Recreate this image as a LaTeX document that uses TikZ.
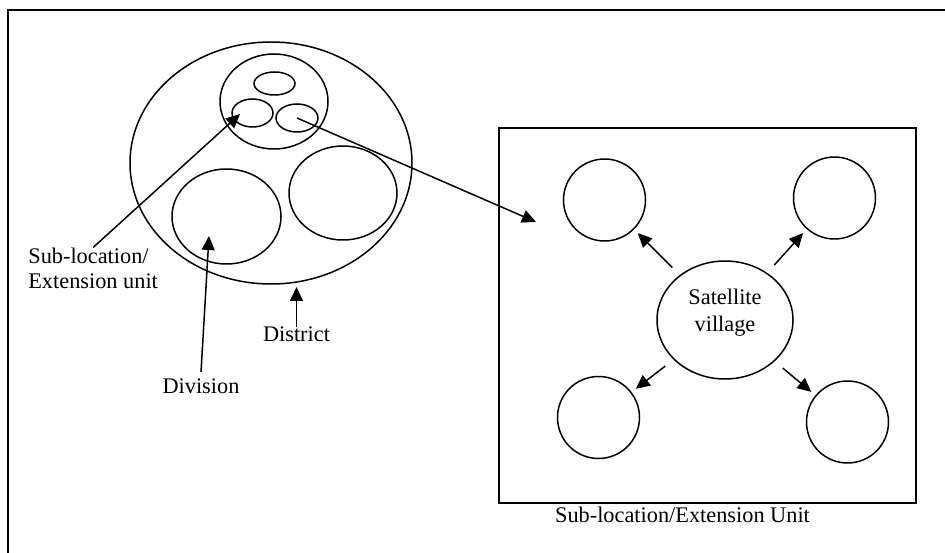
\documentclass[tikz,border=0pt]{standalone}
\usepackage{fontspec}
\setmainfont{Liberation Serif}
\usetikzlibrary{shapes.geometric,arrows.meta}

\begin{document}
\begin{tikzpicture}[
	ring/.style={draw, ellipse, line width=0.85pt, inner sep=0pt},
	village/.style={draw, circle, line width=0.85pt, minimum size=1.64cm},
	arr/.style={line width=0.85pt, -{Triangle[length=0.28cm,width=0.26cm]}},
	lbl/.style={font=\fontsize{12.7}{14.2}\selectfont}
	]
	
	\useasboundingbox (0,0) rectangle (18.9,-11.06);
	
	% Frame
	\draw[line width=1.1pt] (0.16,-11.06) -- (0.16,-0.2) -- (18.9,-0.2);
	
	% District
	\node[ring, minimum width=5.64cm, minimum height=4.84cm] (dist) at (5.42,-3.26) {};
	\node[ring, minimum width=2.16cm, minimum height=1.9cm] (grp) at (5.48,-2.03) {};
	\node[ring, minimum width=0.82cm, minimum height=0.46cm] (st) at (5.49,-1.67) {};
	\node[ring, minimum width=0.82cm, minimum height=0.56cm] (sl) at (5.05,-2.26) {};
	\node[ring, minimum width=0.84cm, minimum height=0.56cm] (sr) at (5.94,-2.36) {};
	\node[ring, minimum width=2.18cm, minimum height=1.9cm] (div) at (4.53,-4.33) {};
	\node[ring, minimum width=2.16cm, minimum height=1.88cm] (divr) at (6.86,-3.86) {};
	
	% Labels
	\node[lbl, anchor=north west, inner sep=0pt, align=left] (subloc) at (0.56,-4.95) {Sub-location/\\Extension unit};
	\node[lbl, anchor=base] (division) at (4.02,-7.86) {Division};
	\node[lbl, anchor=base, inner sep=0pt] (district) at (5.93,-6.84) {District};
	
	\coordinate (subtip) at (4.8,-2.28);
	\coordinate (divtip) at (4.18,-4.72);
	\coordinate (disttip) at (5.93,-5.74);
	\coordinate (unitin) at (10.72,-4.44);
	
	\draw[arr] (subloc.north) -- (subtip);
	\draw[arr] (division.north) -- (divtip);
	\draw[arr] (district.north) -- (disttip);
	\draw[arr] (sr.center) -- (unitin);
	
	% Sub-location / extension unit
	\node[draw, line width=1.1pt, minimum width=8.34cm, minimum height=7.5cm] (unit) at (14.15,-6.31) {};
	\node[lbl, anchor=base] (unitlbl) at (13.65,-10.44) {Sub-location/Extension Unit};
	
	\node[ring, minimum width=2.72cm, minimum height=2.36cm] (sat) at (14.5,-6.4) {};
	\node[font=\fontsize{12.7}{15.3}\selectfont, align=center] (satlbl) at (14.5,-6.26) {Satellite\\village};
	
	\node[village] (tl) at (12.09,-4.0) {};
	\node[village] (tr) at (16.69,-3.96) {};
	\node[village] (bl) at (11.97,-8.35) {};
	\node[village] (br) at (16.95,-8.44) {};
	
	\foreach \v in {tl,tr,bl,br}
		\draw[arr, shorten <=6pt, shorten >=3pt] (sat) -- (\v);
	
\end{tikzpicture}
\end{document}
